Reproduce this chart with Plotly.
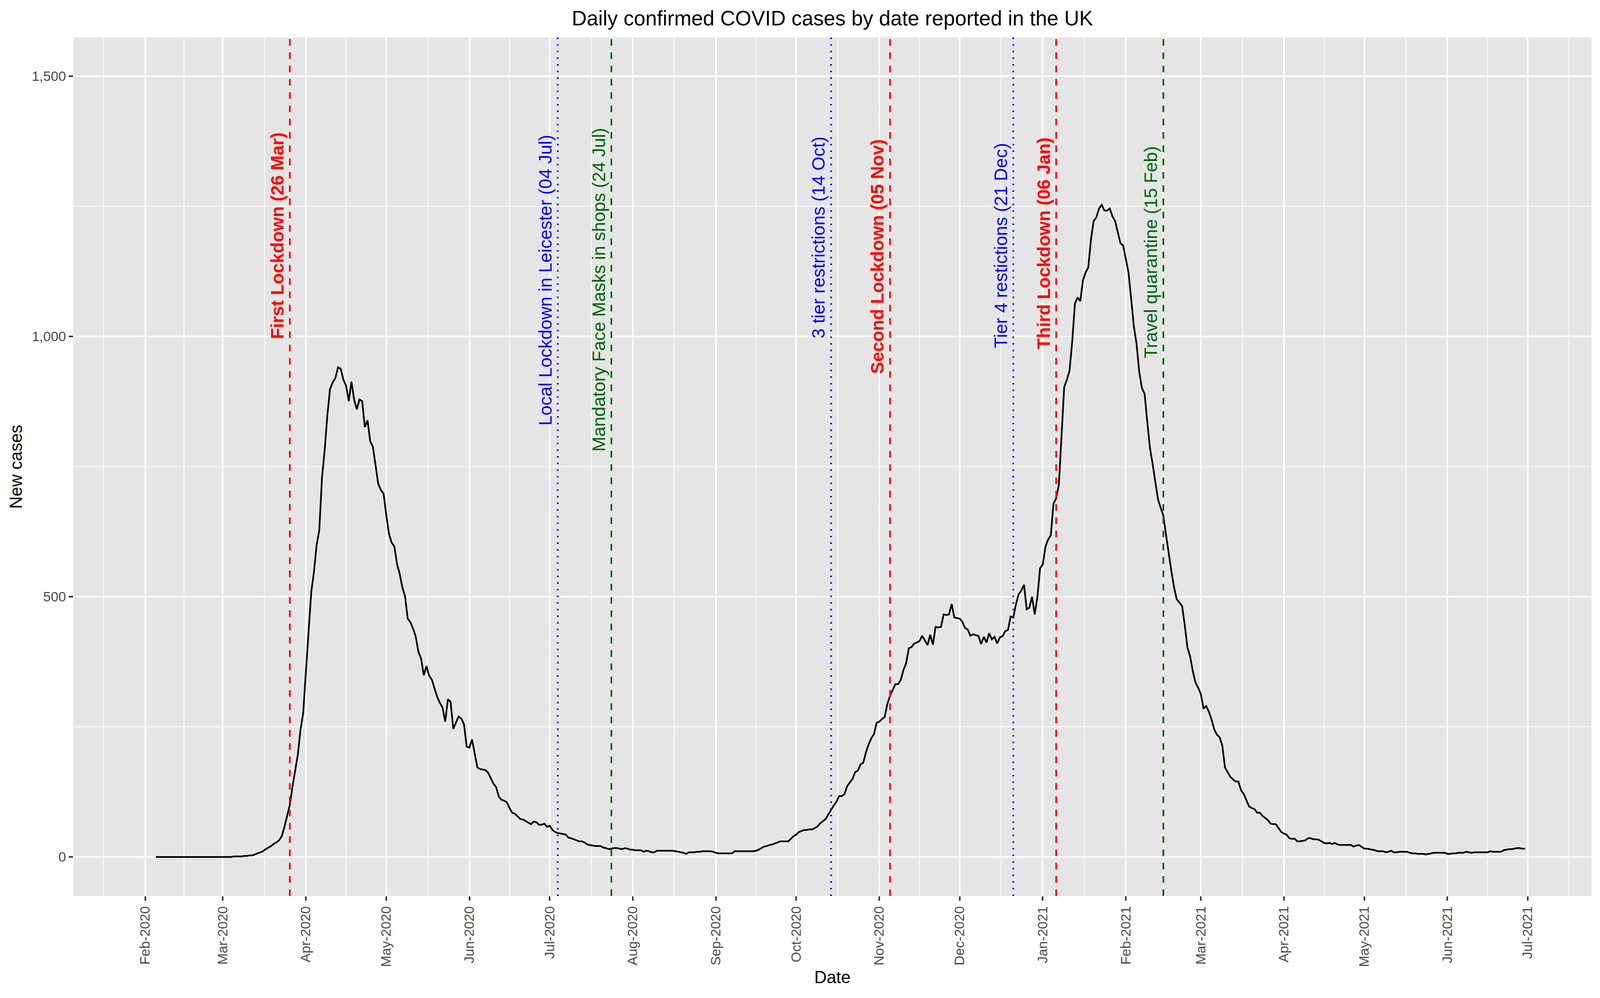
import pandas as pd
import plotly.graph_objects as go

# Daily new cases, one list per month
cases_2020_02 = [0, 0, 0, 0, 0, 0, 0, 0, 0, 0, 0, 0, 0, 0, 0, 0, 0, 0, 0, 0,
                 0, 0, 0, 0, 0]  # starts on 5 Feb
cases_2020_03 = [0, 0, 0, 0, 1, 1, 1, 1, 2, 2, 3, 3, 5, 7, 9, 11, 15, 18, 21, 25,
                 28, 32, 40, 58, 79, 100, 135, 168, 197, 245, 277]
cases_2020_04 = [356, 432, 509, 547, 599, 628, 728, 781, 848, 899, 912, 920, 941, 938, 917,
                 905, 876, 913, 879, 860, 879, 876, 826, 839, 799, 788, 752, 717, 705, 698]
cases_2020_05 = [657, 621, 604, 597, 563, 544, 518, 501, 458, 451, 439, 423, 394, 381, 349,
                 367, 348, 341, 324, 308, 296, 287, 260, 303, 298, 246, 258, 270, 266, 255, 212]
cases_2020_06 = [210, 226, 200, 172, 169, 168, 167, 162, 151, 141, 134, 116, 110, 108, 105,
                 94, 85, 83, 78, 73, 72, 69, 66, 63, 68, 67, 62, 62, 64, 58]
cases_2020_07 = [60, 52, 48, 46, 45, 44, 43, 37, 36, 34, 32, 30, 30, 28, 24, 23, 22, 21, 21, 21,
                 18, 17, 15, 16, 17, 17, 16, 15, 17, 16, 14]
cases_2020_08 = [14, 13, 13, 13, 10, 12, 11, 9, 9, 12, 12, 12, 12, 12, 12, 12, 11, 10, 9, 8,
                 6, 9, 9, 9, 10, 10, 11, 11, 11, 11, 10]
cases_2020_09 = [8, 7, 7, 7, 7, 7, 7, 11, 11, 11, 11, 11, 11, 11, 11, 12, 14, 17, 20, 21,
                 23, 24, 26, 28, 30, 30, 30, 30, 35, 40]
cases_2020_10 = [43, 48, 50, 52, 52, 53, 53, 56, 59, 65, 69, 73, 82, 91, 99, 106, 117, 117, 121, 136,
                 143, 150, 163, 166, 178, 181, 201, 216, 228, 236, 258]
cases_2020_11 = [260, 265, 269, 294, 310, 321, 332, 332, 340, 359, 372, 401, 403, 410, 412,
                 415, 425, 416, 407, 427, 408, 442, 441, 442, 466, 465, 466, 486, 460, 459]
cases_2020_12 = [458, 452, 440, 437, 425, 428, 426, 425, 409, 423, 412, 430, 418, 423, 410,
                 422, 424, 434, 436, 462, 460, 486, 505, 512, 523, 476, 479, 500, 466, 500, 555]
cases_2021_01 = [562, 596, 610, 618, 679, 689, 715, 817, 903, 917, 935, 991, 1063, 1075, 1068,
                 1108, 1123, 1133, 1187, 1222, 1229, 1246, 1253, 1242, 1242, 1246, 1231, 1222,
                 1200, 1179, 1175]
cases_2021_02 = [1147, 1123, 1072, 1019, 986, 932, 901, 890, 836, 786, 755, 720, 687, 671,
                 656, 619, 581, 549, 518, 495, 489, 482, 445, 402, 385, 357, 335, 325]
cases_2021_03 = [313, 285, 290, 279, 264, 245, 235, 230, 214, 172, 163, 154, 149, 145, 145,
                 128, 121, 109, 97, 94, 92, 85, 85, 79, 75, 71, 64, 63, 63, 55, 48]
cases_2021_04 = [45, 43, 36, 35, 35, 30, 30, 31, 32, 36, 36, 34, 34, 33, 30, 27, 26, 27, 25, 27,
                 24, 23, 23, 23, 23, 23, 20, 22, 23, 19]
cases_2021_05 = [16, 16, 15, 14, 13, 11, 11, 11, 9, 10, 12, 9, 9, 10, 10, 10, 10, 8, 7, 7,
                 6, 6, 6, 5, 6, 7, 8, 8, 8, 8, 8]
cases_2021_06 = [6, 6, 7, 7, 8, 8, 8, 10, 9, 8, 9, 9, 9, 9, 9, 9, 11, 10, 10, 10,
                 10, 13, 14, 15, 15, 16, 17, 17, 16, 16]

# First day of each list above
month_starts = ["2020-02-05", "2020-03-01", "2020-04-01", "2020-05-01", "2020-06-01",
                "2020-07-01", "2020-08-01", "2020-09-01", "2020-10-01", "2020-11-01",
                "2020-12-01", "2021-01-01", "2021-02-01", "2021-03-01", "2021-04-01",
                "2021-05-01", "2021-06-01"]
month_cases = [cases_2020_02, cases_2020_03, cases_2020_04, cases_2020_05, cases_2020_06,
               cases_2020_07, cases_2020_08, cases_2020_09, cases_2020_10, cases_2020_11,
               cases_2020_12, cases_2021_01, cases_2021_02, cases_2021_03, cases_2021_04,
               cases_2021_05, cases_2021_06]

# Events marked with vertical lines
event_dates = ["2020-03-26", "2020-07-04", "2020-07-24", "2020-10-14",
               "2020-11-05", "2020-12-21", "2021-01-06", "2021-02-15"]
event_labels = ["First Lockdown (26 Mar)", "Local Lockdown in Leicester (04 Jul)",
                "Mandatory Face Masks in shops (24 Jul)", "3 tier restrictions (14 Oct)",
                "Second Lockdown (05 Nov)", "Tier 4 restictions (21 Dec)",
                "Third Lockdown (06 Jan)", "Travel quarantine (15 Feb)"]

# Look of each event line / label
event_colours = ["red", "blue", "darkgreen", "blue", "red", "blue", "red", "darkgreen"]
event_dashes = ["dashed", "dotted", "dashed", "dotted", "dashed", "dotted", "dashed", "dashed"]
event_bold = [True, False, False, False, True, False, True, False]
label_tops = [1394, 1389, 1402, 1385, 1381, 1373, 1384, 1367]

dash_styles = {"dashed": "17px,17px", "dotted": "4px,13px"}
font_family = "Liberation Sans, Arial, Helvetica, sans-serif"

# Putting the months together into one daily series
dates = []
values = []
for start, cases in zip(month_starts, month_cases):
    dates += list(pd.date_range(start, periods=len(cases), freq="D"))
    values += cases

# Minor grid lines sit halfway between month starts (like ggplot)
month_edges = pd.date_range("2020-01-01", "2021-08-01", freq="MS")
mid_months = [a + (b - a) / 2 for a, b in zip(month_edges[:-1], month_edges[1:])]

fig = go.Figure()

fig.add_trace(
    go.Scatter(
        x=dates,
        y=values,
        mode="lines",
        line=dict(color="black", width=4.3),
        name="New cases",
    )
)

# Vertical lines and their rotated labels
for d, label, colour, dash, bold, top in zip(event_dates, event_labels, event_colours,
                                             event_dashes, event_bold, label_tops):
    fig.add_shape(
        type="line", xref="x", yref="paper",
        x0=d, x1=d, y0=0, y1=1,
        line=dict(color=colour, width=4.3, dash=dash_styles[dash]),
        layer="above",
    )
    fig.add_annotation(
        x=d, y=top, xref="x", yref="y",
        text=f"<b>{label}</b>" if bold else label,
        textangle=-90,
        xanchor="right", yanchor="top",
        xshift=-4,
        showarrow=False,
        font=dict(family=font_family, size=46, color=colour),
    )

fig.update_layout(
    autosize=True,
    margin=dict(l=188, r=22, t=96, b=261, autoexpand=False),
    paper_bgcolor="white",
    plot_bgcolor="#E5E5E5",
    showlegend=False,
    font=dict(family=font_family, color="black"),
    title=dict(
        text="Daily confirmed COVID cases by date reported in the UK",
        x=0.5, xref="paper", xanchor="center",
        y=1 - 46 / 2554, yref="container", yanchor="middle",
        font=dict(size=53, color="black"),
    ),
    xaxis=dict(
        type="date",
        range=["2020-01-05 06:00", "2021-07-24 18:00"],
        tick0="2020-02-01",
        dtick="M1",
        tickformat="%b-%Y",
        tickangle=-90,
        ticks="outside",
        ticklen=11,
        tickwidth=4,
        tickcolor="#333333",
        tickfont=dict(size=35, color="#4D4D4D"),
        showgrid=True,
        gridcolor="white",
        gridwidth=4.3,
        minor=dict(tickmode="array", tickvals=mid_months, showgrid=True,
                   gridcolor="white", gridwidth=2.1, ticks=""),
        zeroline=False,
        showline=False,
        automargin=False,
        title=dict(text="Date", font=dict(size=44, color="black"), standoff=11),
    ),
    yaxis=dict(
        range=[-75, 1574.5],
        tick0=0,
        dtick=500,
        tickformat=",d",
        ticks="outside",
        ticklen=11,
        tickwidth=4,
        tickcolor="#333333",
        tickfont=dict(size=35, color="#4D4D4D"),
        showgrid=True,
        gridcolor="white",
        gridwidth=4.3,
        minor=dict(dtick=250, tick0=0, showgrid=True, gridcolor="white",
                   gridwidth=2.1, ticks=""),
        zeroline=False,
        showline=False,
        automargin=False,
        title=dict(text="New cases", font=dict(size=44, color="black"), standoff=11),
    ),
)

# Let the figure fill the whole browser window
fig.write_html(
    "out.html",
    config={"displayModeBar": False, "responsive": True},
    default_width="100vw",
    default_height="100vh",
    post_script="document.body.style.margin='0';document.body.style.overflow='hidden';"
                "Plotly.Plots.resize(document.getElementById('{plot_id}'));",
)
